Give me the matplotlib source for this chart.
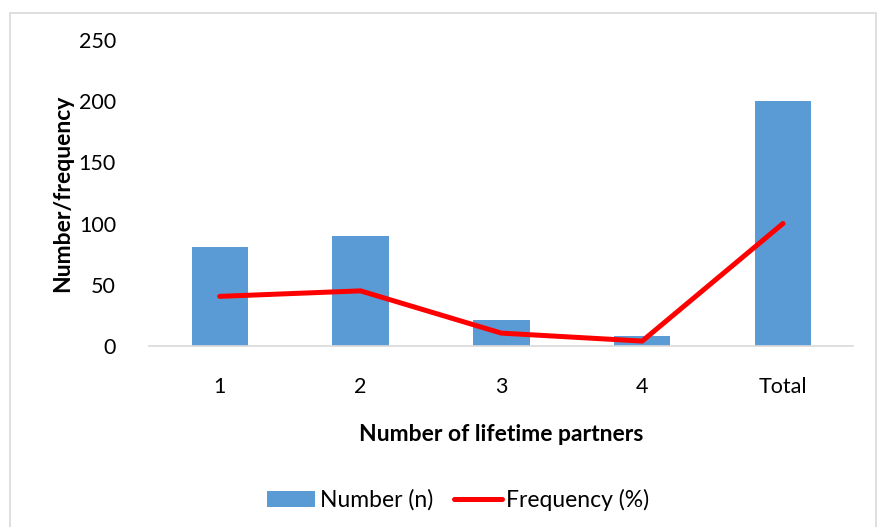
import matplotlib.pyplot as plt
from matplotlib.patches import Rectangle

plt.rcParams['font.family'] = ['Lato', 'DejaVu Sans']

categories = ["1", "2", "3", "4", "Total"]
number_n = [81, 90, 21, 8, 200]
frequency_pct = [40.5, 45, 10.5, 4, 100]

bar_color = "#5b9bd5"
line_color = "#ff0000"

fig = plt.figure(figsize=(8.78, 5.27), dpi=100)
ax = fig.add_axes([0.170, 0.3435, 0.802, 0.581])

x = list(range(len(categories)))
bars = ax.bar(x, number_n, width=0.4, color=bar_color, label="Number (n)", zorder=2)
line, = ax.plot(x, frequency_pct, color=line_color, linewidth=3.6, solid_capstyle="round",
                label="Frequency (%)", zorder=3)

ax.set_xlim(-0.5, len(categories) - 0.5)
ax.set_ylim(0, 250)
ax.set_yticks(range(0, 251, 50))
ax.set_xticks(x)
ax.set_xticklabels(categories)
ax.tick_params(axis="both", length=0, labelsize=15.5, colors="#000000")
ax.tick_params(axis="y", pad=24)
ax.tick_params(axis="x", pad=22)

for side in ("top", "right", "left"):
    ax.spines[side].set_visible(False)
ax.spines["bottom"].set_color("#d9d9d9")
ax.spines["bottom"].set_linewidth(1.2)

ax.set_ylabel("Number/frequency", fontsize=16.5, fontweight="bold", labelpad=4)
ax.set_xlabel("Number of lifetime partners", fontsize=16.5, fontweight="bold", labelpad=20)

fig.legend([bars, line], ["Number (n)", "Frequency (%)"], loc="center",
           bbox_to_anchor=(0.522, 0.052), ncol=2, frameon=False,
           fontsize=16.5, handlelength=2.1, handletextpad=0.2, columnspacing=0.9)

# light chart-area frame
fig.patches.append(Rectangle((10 / 878, -0.01), 866 / 878, 1 - 13 / 527 + 0.01,
                             transform=fig.transFigure, fill=False,
                             edgecolor="#d9d9d9", linewidth=1.2))

fig.savefig("out.png", dpi=100)
